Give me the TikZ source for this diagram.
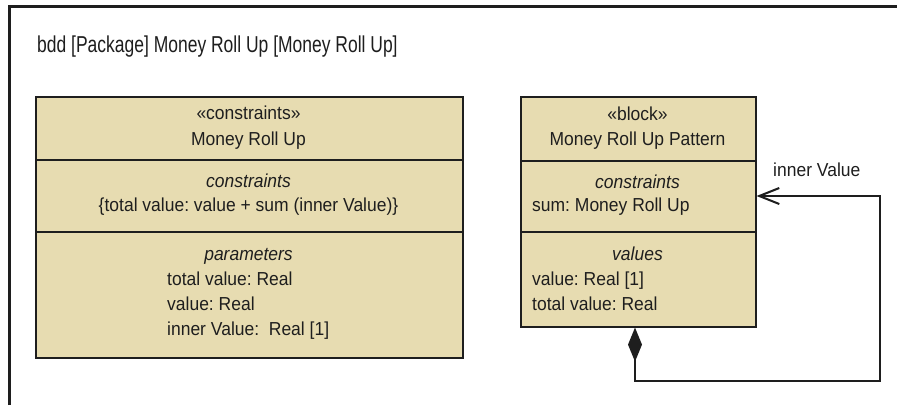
\documentclass[tikz,border=0pt]{standalone}
\usepackage{fontspec}
\setmainfont{Liberation Sans}[FakeStretch=0.93]
\newfontfamily\titlefont{Liberation Sans}[FakeStretch=0.76]
\usetikzlibrary{arrows.meta}
\frenchspacing

\definecolor{blockfill}{RGB}{231,220,177}
\definecolor{ink}{RGB}{30,30,30}

\tikzset{
  umlbox/.style={draw=ink, fill=blockfill, inner sep=0pt, anchor=north west},
  divider/.style={draw=ink},
  txt/.style={inner sep=0pt, text=ink, font=\fontsize{18.8}{25}\selectfont},
  ctr/.style={txt, anchor=base},
  lft/.style={txt, anchor=base west},
  composite/.style={draw=ink, line width=2pt,
    {Diamond[length=34pt,width=14pt]}-{Straight Barb[length=20pt,width=16pt,line width=2pt]}},
}

\begin{document}
\begin{tikzpicture}[x=1pt, y=-1pt]
  \useasboundingbox (0,0) rectangle (897,405);
  \fill[white] (0,0) rectangle (897,405);

  % diagram frame (open on the right and bottom)
  \coordinate (frameBL) at (9,405);
  \coordinate (frameTL) at (9,6.5);
  \coordinate (frameTR) at (897,6.5);
  \draw[ink, line width=3pt] (frameBL) -- (frameTL) -- (frameTR);

  \node[lft, anchor=base west, font=\titlefont\fontsize{23}{27}\selectfont] (title) at (37,52.7)
    {bdd [Package] Money Roll Up [Money Roll Up]};

  % constraint block
  \node[umlbox, line width=2.2pt, minimum width=427pt, minimum height=261pt] (cmr) at (35,96) {};
  \draw[divider, line width=2.2pt] (cmr.west |- 0,160) -- (cmr.east |- 0,160);
  \draw[divider, line width=2.2pt] (cmr.west |- 0,232) -- (cmr.east |- 0,232);

  \node[ctr] (cmrStereo) at (248.5,119.5) {«constraints»};
  \node[ctr] (cmrName)   at (248.5,145)   {Money Roll Up};
  \node[ctr] (cmrCHead)  at (248.5,187.5) {\itshape constraints};
  \node[ctr] (cmrExpr)   at (248.5,211)   {\{total value: value + sum (inner Value)\}};
  \node[ctr] (cmrPHead)  at (248.5,260.5) {\itshape parameters};
  \node[lft] (cmrP1)     at (167,285)     {total value: Real};
  \node[lft] (cmrP2)     at (167,310)     {value: Real};
  \node[lft] (cmrP3)     at (167,335.5)   {inner Value:\ \ Real [1]};

  % block
  \node[umlbox, line width=1.6pt, minimum width=235pt, minimum height=230pt] (blk) at (520,96) {};
  \draw[divider, line width=1.6pt] (blk.west |- 0,161) -- (blk.east |- 0,161);
  \draw[divider, line width=1.6pt] (blk.west |- 0,232) -- (blk.east |- 0,232);

  \node[ctr] (blkStereo) at (637.5,120)  {«block»};
  \node[ctr] (blkName)   at (637.5,145)  {Money Roll Up Pattern};
  \node[ctr] (blkCHead)  at (637.5,188)  {\itshape constraints};
  \node[lft] (blkC1)     at (532,211.5)  {sum: Money Roll Up};
  \node[ctr] (blkVHead)  at (637.5,260.5){\itshape values};
  \node[lft] (blkV1)     at (532,285)    {value: Real [1]};
  \node[lft] (blkV2)     at (532,310)    {total value: Real};

  % composition loop from the block back to itself
  \coordinate (loopBottom) at (880,381);
  \coordinate (loopTop)    at (880,196);
  \draw[composite] (blk.south -| 635,0) |- (loopBottom) -- (loopTop) -- (blk.east |- loopTop);
  \node[lft] (roleName) at (773,176) {inner Value};
\end{tikzpicture}
\end{document}
